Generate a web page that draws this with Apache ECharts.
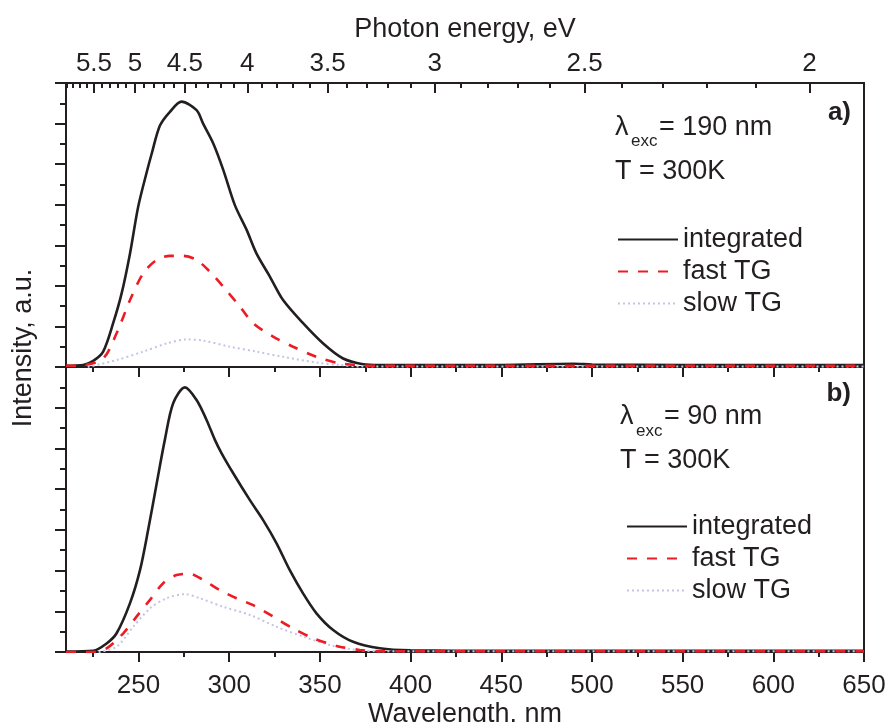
<!DOCTYPE html>
<html><head><meta charset="utf-8">
<script src="https://cdn.jsdelivr.net/npm/echarts@6/dist/echarts.min.js"></script>
<style>html,body{margin:0;padding:0;background:#fff}#c{width:888px;height:722px}</style>
</head><body><div id="c"></div>
<script>
const HC = 1239.84; // nm·eV
const wlMajorTicks = [250,300,350,400,450,500,550,600,650];
const wlMinorTicks = [225,275,325,375,425,475,525,575,625];
const evMajorTicks = [5.5,5,4.5,4,3.5,3,2.5,2];
const evMinorTicks = [5.9,5.8,5.7,5.6,5.4,5.3,5.2,5.1,4.9,4.8,4.7,4.6,4.4,4.3,4.2,4.1,3.9,3.8,3.7,3.6,3.4,3.3,3.2,3.1,2.9,2.8,2.7,2.6,2.4,2.3,2.2,2.1];
const seriesNames = ['integrated','fast TG','slow TG'];

// panel a) λexc = 190 nm
const aIntX = [210,219.5,225,230.5,236,240.7,245.3,249.8,254.5,257.2,261.8,267.3,273.7,282,285.6,291.2,296.7,303.1,309.6,315,322.4,329.7,340.7,351.8,362.8,373.8,383,400,450,490,500,550,600,650];
const aIntY = [0.03,0.05,0.15,0.38,1.08,1.82,2.80,3.95,4.80,5.25,5.95,6.29,6.54,6.33,6.00,5.51,4.86,3.99,3.38,2.80,2.23,1.65,1.08,0.58,0.21,0.07,0.05,0.05,0.05,0.08,0.06,0.05,0.05,0.05];
const aFastX = [210,220,230.5,237.9,245.3,252.6,260,267.3,274.6,282,289.3,296.7,305.9,313.2,324.2,335.2,348.1,361,380,450,550,650];
const aFastY = [0.03,0.05,0.21,0.83,1.65,2.31,2.64,2.74,2.74,2.64,2.35,1.98,1.49,1.08,0.75,0.50,0.25,0.09,0.03,0.03,0.03,0.03];
const aSlowX = [222,237.9,252.6,265.5,276.5,285.6,300.4,315,329.7,348.1,361,372,400,500,650];
const aSlowY = [0.00,0.17,0.38,0.58,0.68,0.65,0.50,0.38,0.25,0.11,0.05,0.01,0.01,0.01,0.01];

// panel b) λexc = 90 nm
const bIntX = [210,225,232.4,237.9,245.3,250.8,255.3,260,264.5,269.1,275.6,282,287.5,292.1,295.8,302.2,311.4,318.7,326.1,333.4,340.7,348.1,357.3,368.3,383,400,450,500,550,600,650];
const bIntY = [0.01,0.03,0.21,0.46,1.20,2.01,3.00,4.14,5.21,6.11,6.50,6.19,5.70,5.21,4.88,4.39,3.73,3.24,2.67,2.01,1.44,0.95,0.54,0.25,0.09,0.04,0.03,0.03,0.03,0.03,0.03];
const bFastX = [210,225,232.4,241.6,248.9,256.3,263.6,271,278.3,285.6,294.8,304,313.2,324.2,335.2,346.2,359.2,372,383,450,550,650];
const bFastY = [0.00,0.00,0.09,0.46,0.87,1.28,1.69,1.89,1.92,1.77,1.52,1.32,1.15,0.87,0.58,0.34,0.15,0.05,0.02,0.02,0.02,0.02];
const bSlowX = [228,237.9,247.1,256.3,265.5,275.6,283.8,296.7,311.4,326.1,340.7,355.4,370.1,383,450,550,650];
const bSlowY = [0.00,0.13,0.62,1.07,1.32,1.42,1.32,1.11,0.91,0.62,0.38,0.17,0.05,0.02,0.02,0.02,0.02];

const zip = (xs, ys) => xs.map((x, i) => [x, ys[i]]);
const FONT = '"Liberation Sans", Arial, Helvetica, sans-serif';
const INK = '#231f20';
const RED = '#ed1c24';
const SLOW = '#c3c5e6';
const WL_MIN = 210, WL_MAX = 650;

const lineAxis = {show: true, lineStyle: {color: INK, width: 2}};
const noLine = {show: false};
const tickStyle = {color: INK, width: 2};

function xBase(grid, pos, extra) {
  return Object.assign({
    gridIndex: grid, type: 'value', position: pos, min: WL_MIN, max: WL_MAX,
    axisLine: noLine, axisTick: {show: false}, axisLabel: {show: false},
    splitLine: {show: false}, minorTick: {show: false}
  }, extra);
}

const evLabel = (v) => {
  let best = evMajorTicks[0], d = Infinity;
  evMajorTicks.forEach(e => { const dd = Math.abs(HC / e - v); if (dd < d) { d = dd; best = e; } });
  return String(best);
};

const xAxis = [
  // 0: panel a bottom (data axis)
  xBase(0, 'bottom', {axisLine: lineAxis,
    axisTick: {show: true, inside: false, length: 10, customValues: wlMajorTicks, lineStyle: tickStyle}}),
  // 1: panel a bottom minor
  xBase(0, 'bottom', {axisTick: {show: true, inside: false, length: 5, customValues: wlMinorTicks, lineStyle: tickStyle}}),
  // 2: panel a top, photon energy major
  xBase(0, 'top', {axisLine: lineAxis,
    axisTick: {show: true, inside: true, length: 10, customValues: evMajorTicks.map(e => HC / e), lineStyle: tickStyle},
    axisLabel: {show: true, customValues: evMajorTicks.map(e => HC / e), formatter: evLabel, margin: 6,
      fontSize: 26, color: INK, fontFamily: FONT},
    name: 'Photon energy, eV', nameLocation: 'middle', nameGap: 40,
    nameTextStyle: {fontSize: 27, color: INK, fontFamily: FONT}}),
  // 3: panel a top minor
  xBase(0, 'top', {axisTick: {show: true, inside: true, length: 5, customValues: evMinorTicks.map(e => HC / e), lineStyle: tickStyle}}),
  // 4: panel b bottom (data axis, labelled)
  xBase(1, 'bottom', {axisLine: lineAxis,
    axisTick: {show: true, inside: false, length: 10, customValues: wlMajorTicks, lineStyle: tickStyle},
    axisLabel: {show: true, customValues: wlMajorTicks, margin: 21, fontSize: 26, color: INK, fontFamily: FONT},
    name: 'Wavelength, nm', nameLocation: 'middle', nameGap: 49,
    nameTextStyle: {fontSize: 27, color: INK, fontFamily: FONT}}),
  // 5: panel b bottom minor
  xBase(1, 'bottom', {axisTick: {show: true, inside: false, length: 5, customValues: wlMinorTicks, lineStyle: tickStyle}}),
  // 6: panel b top line
  xBase(1, 'top', {axisLine: lineAxis})
];

function yAx(grid, pos, ticks) {
  return {
    gridIndex: grid, type: 'value', position: pos, min: 0, max: 7, interval: 1,
    axisLine: lineAxis,
    axisTick: {show: ticks, inside: false, length: 11, lineStyle: tickStyle},
    minorTick: {show: ticks, splitNumber: 2, length: 6, lineStyle: tickStyle},
    axisLabel: {show: false}, splitLine: {show: false}
  };
}
const yAxis = [yAx(0, 'left', true), yAx(0, 'right', false), yAx(1, 'left', true), yAx(1, 'right', false)];

function mkSeries(name, xs, ys, xi, yi, kind) {
  const ls = kind === 'int' ? {color: INK, width: 2.6, type: 'solid'}
           : kind === 'fast' ? {color: RED, width: 2.6, type: [10, 10]}
           : {color: SLOW, width: 2, type: [2, 3]};
  return {
    name, type: 'line', xAxisIndex: xi, yAxisIndex: yi, data: zip(xs, ys),
    symbol: 'none', smooth: 0.3, lineStyle: ls, itemStyle: {color: ls.color},
    emphasis: {disabled: true}, animation: false
  };
}

const series = [
  mkSeries('integrated', aIntX, aIntY, 0, 0, 'int'),
  mkSeries('slow TG', aSlowX, aSlowY, 0, 0, 'slow'),
  mkSeries('fast TG', aFastX, aFastY, 0, 0, 'fast'),
  mkSeries('integrated', bIntX, bIntY, 4, 2, 'int'),
  mkSeries('slow TG', bSlowX, bSlowY, 4, 2, 'slow'),
  mkSeries('fast TG', bFastX, bFastY, 4, 2, 'fast')
];

const legendBase = {
  data: seriesNames, orient: 'vertical', itemWidth: 60, itemHeight: 14, itemGap: 5,
  selectedMode: false, itemStyle: {opacity: 0},
  textStyle: {fontSize: 27, color: INK, fontFamily: FONT}
};

const txt = (text, x, y, size, extra) => ({
  type: 'text', x, y, silent: true,
  style: Object.assign({text, fontSize: size, fontFamily: FONT, fill: INK, verticalAlign: 'middle', textAlign: 'left'}, extra || {})
});

const graphic = [
  txt('λ', 615, 128, 27), txt('exc', 631, 141, 17), txt('= 190 nm', 659, 128, 27),
  txt('T = 300K', 615, 172, 27),
  txt('a)', 851, 113, 26, {textAlign: 'right', fontWeight: 'bold'}),
  txt('λ', 620, 417, 27), txt('exc', 636, 431, 17), txt('= 90 nm', 664, 417, 27),
  txt('T = 300K', 620, 461, 27),
  txt('b)', 851, 394, 26, {textAlign: 'right', fontWeight: 'bold'}),
  {type: 'text', x: 24, y: 348, rotation: Math.PI / 2, silent: true,
   style: {text: 'Intensity, a.u.', fontSize: 27, fontFamily: FONT, fill: INK, textAlign: 'center', verticalAlign: 'middle'}}
];

const chart = echarts.init(document.getElementById('c'), null, {renderer: 'canvas'});
chart.setOption({
  backgroundColor: '#ffffff',
  animation: false,
  grid: [
    {left: 66, right: 24, top: 83, height: 284, outerBoundsMode: 'none', containLabel: false},
    {left: 66, right: 24, top: 367, height: 285, outerBoundsMode: 'none', containLabel: false}
  ],
  xAxis, yAxis, series,
  legend: [
    Object.assign({}, legendBase, {left: 612, top: 221}),
    Object.assign({}, legendBase, {left: 621, top: 508})
  ],
  graphic
});
</script></body></html>
